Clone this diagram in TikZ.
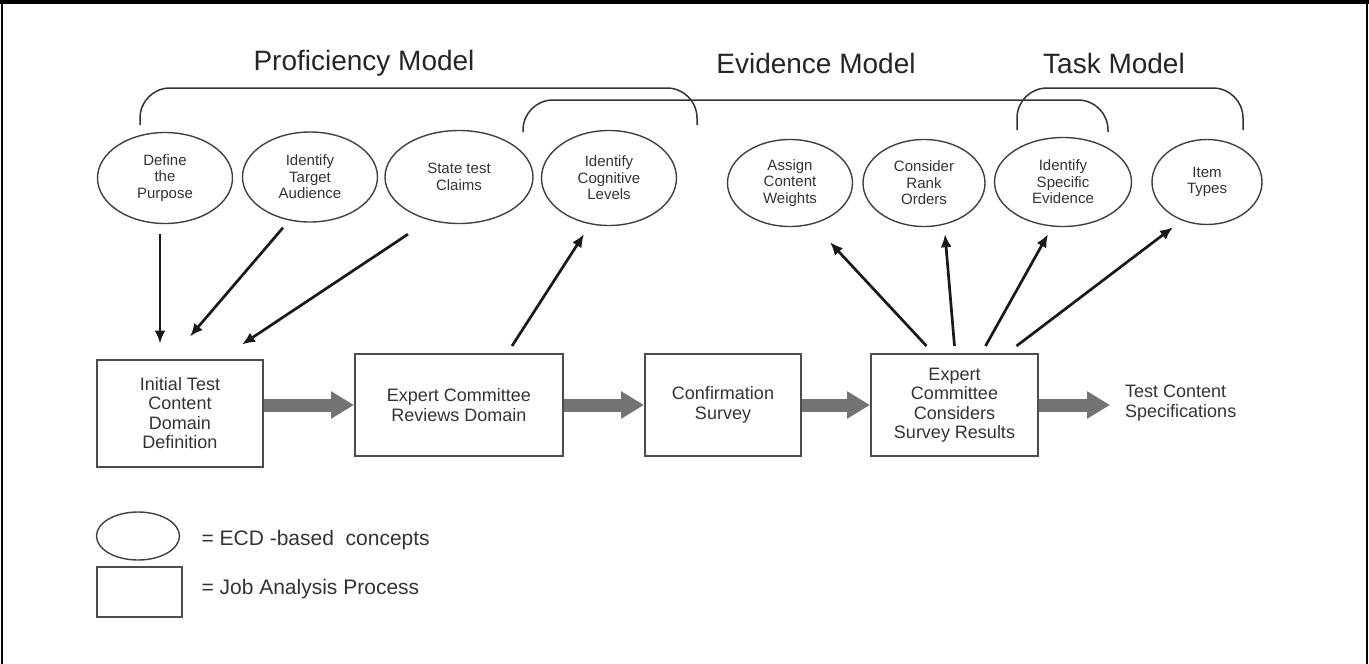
\documentclass[tikz,border=0pt]{standalone}
\usepackage{fontspec}
\setmainfont{Liberation Sans}
\usetikzlibrary{arrows.meta,shapes.geometric}

\begin{document}
\begin{tikzpicture}[x=1pt, y=-1pt,
  concept/.style={ellipse, draw=black!75, line width=1.4pt, inner sep=0pt,
    align=center, text=black!80, font=\fontsize{15}{16.5}\selectfont},
  process/.style={rectangle, draw=black!70, line width=2pt, inner sep=0pt,
    align=center, text=black!80, font=\fontsize{18}{19.5}\selectfont},
  model/.style={text=black!85, font=\fontsize{28}{30}\selectfont},
  keytext/.style={anchor=west, text=black!80, font=\fontsize{21}{23}\selectfont},
  link/.style={-{Latex[length=13pt, width=11pt]}, line width=2.7pt, color=black!90},
  flow/.style={-{Triangle[length=23pt, width=26pt]}, line width=13pt, color=black!55},
  bracket/.style={line width=1.5pt, color=black!80, rounded corners=30pt}
]
  \useasboundingbox (0,0) rectangle (1369,664);
  \draw[line width=4pt] (0,2) -- (1369,2);
  \draw[line width=2pt] (2,0) -- (2,664) (1367,0) -- (1367,664);

  \node[model] (profTitle) at (364,63) {Proficiency Model};
  \node[model] (evidTitle) at (816,63) {Evidence Model};
  \node[model] (taskTitle) at (1114,63) {Task Model};

  \draw[bracket] (140,125) -- (140,88) -- (697,88) -- (697,125);
  \draw[bracket] (523,132) -- (523,100) -- (1108,100) -- (1108,132);
  \draw[bracket] (1017,130) -- (1017,88) -- (1243,88) -- (1243,130);

  \node[concept, minimum width=135pt, minimum height=91pt] (purpose) at (165,178) {Define\\the\\Purpose};
  \node[concept, minimum width=135pt, minimum height=90pt] (audience) at (310,177) {Identify\\Target\\Audience};
  \node[concept, minimum width=148pt, minimum height=93pt] (claims) at (459,177) {State test\\Claims};
  \node[concept, minimum width=135pt, minimum height=95pt] (cognitive) at (609,178) {Identify\\Cognitive\\Levels};
  \node[concept, minimum width=125pt, minimum height=87pt] (weights) at (790,183) {Assign\\Content\\Weights};
  \node[concept, minimum width=122pt, minimum height=87pt] (rank) at (924,183) {Consider\\Rank\\Orders};
  \node[concept, minimum width=137pt, minimum height=89pt] (specific) at (1063,182) {Identify\\Specific\\Evidence};
  \node[concept, minimum width=110pt, minimum height=85pt] (itemtypes) at (1207,182) {Item\\Types};

  \node[process, minimum width=166pt, minimum height=107pt] (initial) at (180,413) {Initial Test\\Content\\Domain\\Definition};
  \node[process, minimum width=208pt, minimum height=102pt] (reviews) at (459,405) {Expert Committee\\Reviews Domain};
  \node[process, minimum width=156pt, minimum height=102pt] (confirm) at (723,405) {Confirmation\\Survey};
  \node[process, minimum width=167pt, minimum height=102pt] (considers) at (954.5,405) {Expert\\Committee\\Considers\\Survey Results};
  \node[anchor=west, align=left, inner xsep=15pt, inner ysep=0pt, text=black!80,
    font=\fontsize{18}{19.5}\selectfont] (spec) at (1110,403) {Test Content\\Specifications};

  \draw[link] ([xshift=-5pt, yshift=-10pt]purpose.south) -- ([xshift=-20pt, yshift=15pt]initial.north);
  \draw[link] ([xshift=-27pt, yshift=-5pt]audience.south) -- ([xshift=10pt, yshift=22pt]initial.north);
  \draw[link] ([xshift=-51pt, yshift=-10pt]claims.south) -- ([xshift=62pt, yshift=14pt]initial.north);
  \draw[link] ([xshift=53pt, yshift=7pt]reviews.north) -- ([xshift=-25pt, yshift=-8pt]cognitive.south);
  \draw[link] ([xshift=-28pt, yshift=7pt]considers.north) -- ([xshift=40pt, yshift=-15pt]weights.south);
  \draw[link] ([yshift=7pt]considers.north) -- ([xshift=21pt, yshift=-7pt]rank.south);
  \draw[link] ([xshift=31pt, yshift=7pt]considers.north) -- ([xshift=-15pt, yshift=-7pt]specific.south);
  \draw[link] ([xshift=62pt, yshift=7pt]considers.north) -- ([xshift=-34pt, yshift=-2pt]itemtypes.south);

  \draw[flow] (initial.east |- reviews.west) -- (reviews.west);
  \draw[flow] (reviews.east) -- (confirm.west);
  \draw[flow] (confirm.east) -- (considers.west);
  \draw[flow] (considers.east) -- (considers.east -| spec.west);

  \node[concept, minimum width=83pt, minimum height=48pt] (keyConcept) at (138,536) {};
  \node[process, minimum width=85pt, minimum height=50pt] (keyProcess) at (139.5,592) {};
  \node[keytext] (keyConceptText) at (198,540) {= ECD -based\ \ concepts};
  \node[keytext] (keyProcessText) at (198,589) {= Job Analysis Process};
\end{tikzpicture}
\end{document}
